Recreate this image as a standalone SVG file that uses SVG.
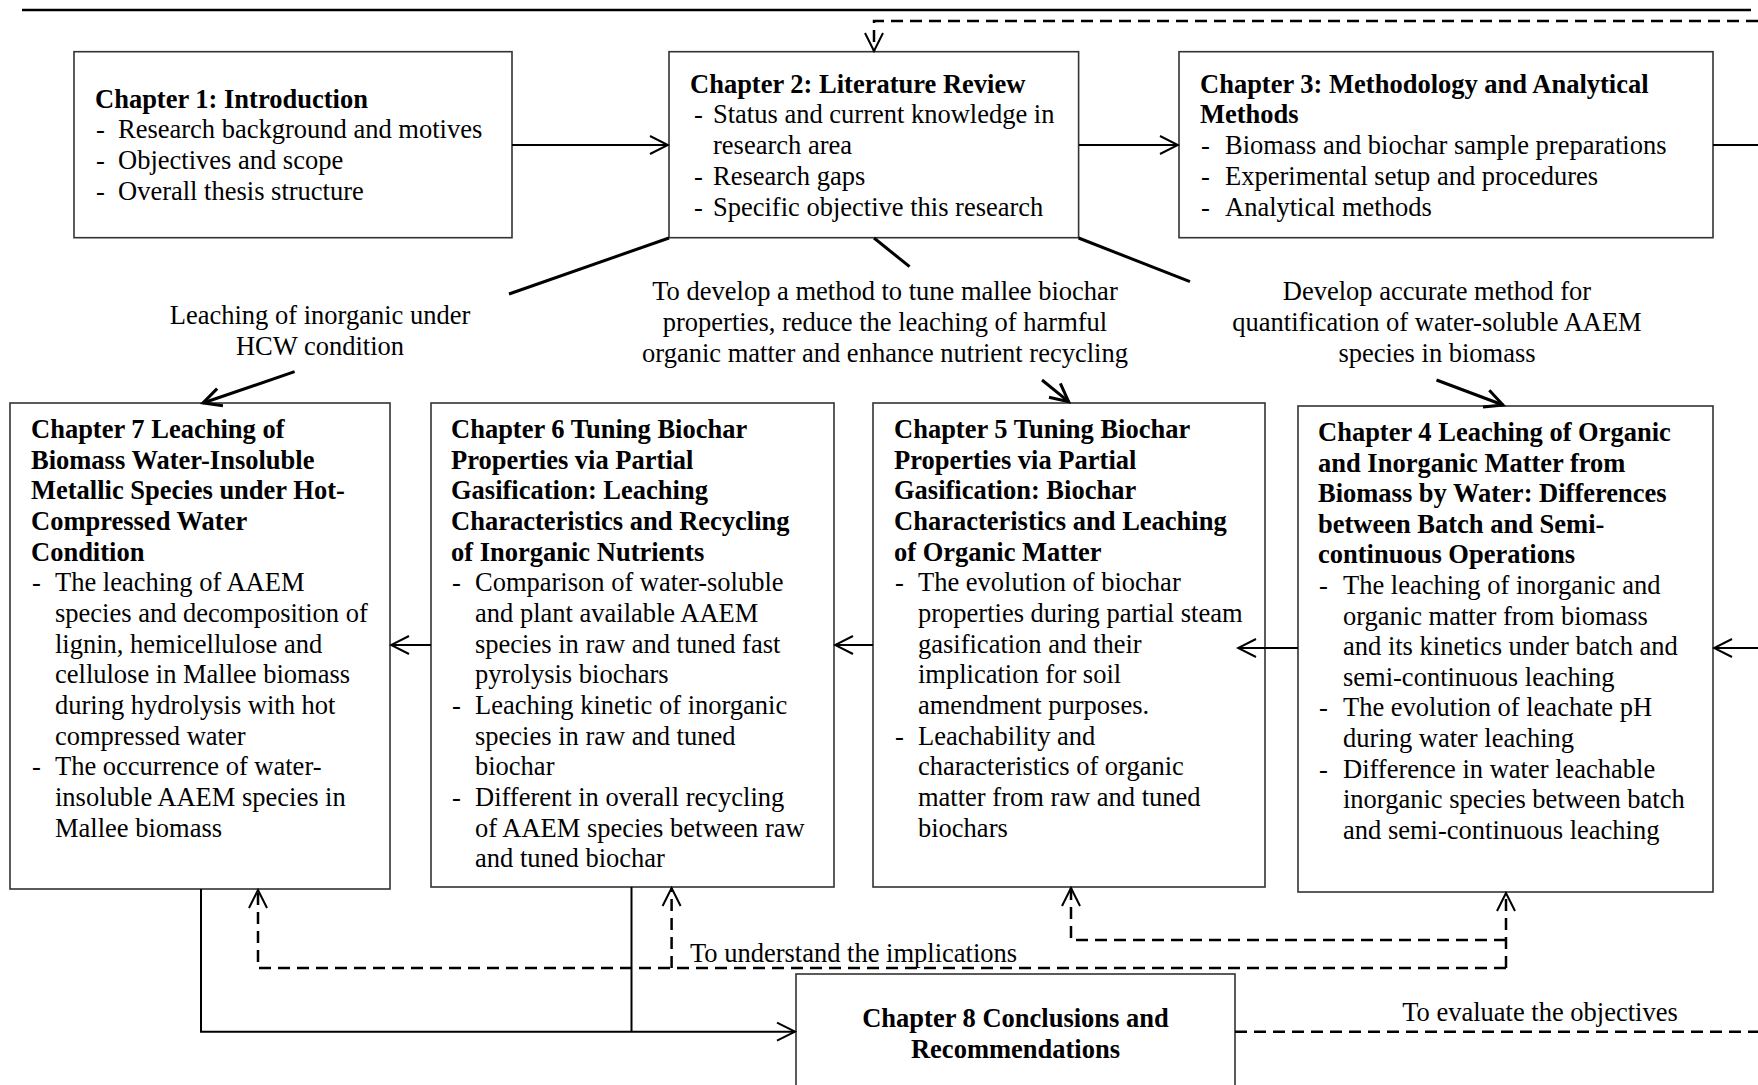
<svg xmlns="http://www.w3.org/2000/svg" width="1758" height="1085" viewBox="0 0 1758 1085">
<style>
text{font-family:"Liberation Serif","Times New Roman",serif;font-size:26.5px;fill:#000}
.t{font-weight:bold}
.box{fill:#fff;stroke:#333;stroke-width:1.6}
.c{fill:none;stroke:#000;stroke-width:2}
.k{fill:none;stroke:#000;stroke-width:3}
.d{fill:none;stroke:#000;stroke-width:2.5;stroke-dasharray:12 7}
.m{text-anchor:middle}
</style>
<defs>
<marker id="a" markerUnits="userSpaceOnUse" markerWidth="22" markerHeight="22" viewBox="0 0 22 22" refX="20" refY="11" orient="auto">
<path d="M2,2 L20,11 L2,20" fill="none" stroke="#000" stroke-width="2"/>
</marker>
<marker id="ak" markerUnits="userSpaceOnUse" markerWidth="24" markerHeight="24" viewBox="0 0 24 24" refX="21" refY="12" orient="auto">
<path d="M3,3 L21,12 L3,21" fill="none" stroke="#000" stroke-width="3"/>
</marker>
</defs>

<g id="ch1">
<rect class="box" x="74" y="51.7" width="438" height="186"/>
<text class="t" x="95" y="107.5">Chapter 1: Introduction</text>
<text x="96" y="138.3">-</text><text x="118" y="138.3">Research background and motives</text>
<text x="96" y="169.1">-</text><text x="118" y="169.1">Objectives and scope</text>
<text x="96" y="199.9">-</text><text x="118" y="199.9">Overall thesis structure</text>
</g>

<g id="ch2">
<rect class="box" x="669" y="51.7" width="409.6" height="186"/>
<text class="t" x="690" y="92.5">Chapter 2: Literature Review</text>
<text x="694" y="123.3">-</text><text x="713" y="123.3">Status and current knowledge in</text>
<text x="713" y="154.1">research area</text>
<text x="694" y="184.9">-</text><text x="713" y="184.9">Research gaps</text>
<text x="694" y="215.7">-</text><text x="713" y="215.7">Specific objective this research</text>
</g>

<g id="ch3">
<rect class="box" x="1179" y="51.7" width="534" height="186"/>
<text class="t" x="1200" y="92.5">Chapter 3: Methodology and Analytical</text>
<text class="t" x="1200" y="123.3">Methods</text>
<text x="1201" y="154.1">-</text><text x="1225" y="154.1">Biomass and biochar sample preparations</text>
<text x="1201" y="184.9">-</text><text x="1225" y="184.9">Experimental setup and procedures</text>
<text x="1201" y="215.7">-</text><text x="1225" y="215.7">Analytical methods</text>
</g>

<g id="ch7">
<rect class="box" x="10" y="403" width="380" height="486"/>
<text class="t" x="31" y="438">Chapter 7 Leaching of</text>
<text class="t" x="31" y="468.7">Biomass Water-Insoluble</text>
<text class="t" x="31" y="499.3">Metallic Species under Hot-</text>
<text class="t" x="31" y="530">Compressed Water</text>
<text class="t" x="31" y="560.6">Condition</text>
<text x="32" y="591.3">-</text><text x="55" y="591.3">The leaching of AAEM</text>
<text x="55" y="621.9">species and decomposition of</text>
<text x="55" y="652.6">lignin, hemicellulose and</text>
<text x="55" y="683.2">cellulose in Mallee biomass</text>
<text x="55" y="713.9">during hydrolysis with hot</text>
<text x="55" y="744.5">compressed water</text>
<text x="32" y="775.2">-</text><text x="55" y="775.2">The occurrence of water-</text>
<text x="55" y="805.8">insoluble AAEM species in</text>
<text x="55" y="836.5">Mallee biomass</text>
</g>

<g id="ch6">
<rect class="box" x="431" y="403" width="403" height="484"/>
<text class="t" x="451" y="438">Chapter 6 Tuning Biochar</text>
<text class="t" x="451" y="468.7">Properties via Partial</text>
<text class="t" x="451" y="499.3">Gasification: Leaching</text>
<text class="t" x="451" y="530">Characteristics and Recycling</text>
<text class="t" x="451" y="560.6">of Inorganic Nutrients</text>
<text x="452" y="591.3">-</text><text x="475" y="591.3">Comparison of water-soluble</text>
<text x="475" y="621.9">and plant available AAEM</text>
<text x="475" y="652.6">species in raw and tuned fast</text>
<text x="475" y="683.2">pyrolysis biochars</text>
<text x="452" y="713.9">-</text><text x="475" y="713.9">Leaching kinetic of inorganic</text>
<text x="475" y="744.5">species in raw and tuned</text>
<text x="475" y="775.2">biochar</text>
<text x="452" y="805.8">-</text><text x="475" y="805.8">Different in overall recycling</text>
<text x="475" y="836.5">of AAEM species between raw</text>
<text x="475" y="867.1">and tuned biochar</text>
</g>

<g id="ch5">
<rect class="box" x="873" y="403" width="392" height="484"/>
<text class="t" x="894" y="438">Chapter 5 Tuning Biochar</text>
<text class="t" x="894" y="468.7">Properties via Partial</text>
<text class="t" x="894" y="499.3">Gasification: Biochar</text>
<text class="t" x="894" y="530">Characteristics and Leaching</text>
<text class="t" x="894" y="560.6">of Organic Matter</text>
<text x="895" y="591.3">-</text><text x="918" y="591.3">The evolution of biochar</text>
<text x="918" y="621.9">properties during partial steam</text>
<text x="918" y="652.6">gasification and their</text>
<text x="918" y="683.2">implication for soil</text>
<text x="918" y="713.9">amendment purposes.</text>
<text x="895" y="744.5">-</text><text x="918" y="744.5">Leachability and</text>
<text x="918" y="775.2">characteristics of organic</text>
<text x="918" y="805.8">matter from raw and tuned</text>
<text x="918" y="836.5">biochars</text>
</g>

<g id="ch4">
<rect class="box" x="1298" y="406" width="415" height="486"/>
<text class="t" x="1318" y="441">Chapter 4 Leaching of Organic</text>
<text class="t" x="1318" y="471.6">and Inorganic Matter from</text>
<text class="t" x="1318" y="502.2">Biomass by Water: Differences</text>
<text class="t" x="1318" y="532.8">between Batch and Semi-</text>
<text class="t" x="1318" y="563.4">continuous Operations</text>
<text x="1319" y="594">-</text><text x="1343" y="594">The leaching of inorganic and</text>
<text x="1343" y="624.6">organic matter from biomass</text>
<text x="1343" y="655.2">and its kinetics under batch and</text>
<text x="1343" y="685.8">semi-continuous leaching</text>
<text x="1319" y="716.4">-</text><text x="1343" y="716.4">The evolution of leachate pH</text>
<text x="1343" y="747">during water leaching</text>
<text x="1319" y="777.6">-</text><text x="1343" y="777.6">Difference in water leachable</text>
<text x="1343" y="808.2">inorganic species between batch</text>
<text x="1343" y="838.8">and semi-continuous leaching</text>
</g>

<g id="ch8">
<rect class="box" x="796" y="974" width="439" height="140"/>
<text class="t m" x="1015.5" y="1027">Chapter 8 Conclusions and</text>
<text class="t m" x="1015.5" y="1058">Recommendations</text>
</g>

<g id="connectors">
<line x1="22" y1="10" x2="1751" y2="10" stroke="#000" stroke-width="2.5"/>
<path class="d" d="M1758,21 H874 V51" marker-end="url(#a)"/>
<path class="c" d="M512,145 H668" marker-end="url(#a)"/>
<path class="c" d="M1079,145 H1178" marker-end="url(#a)"/>
<path class="c" d="M1713,145 H1758"/>
<path class="c" d="M1758,648 H1714" marker-end="url(#a)"/>
<path class="c" d="M1298,648 H1238" marker-end="url(#a)"/>
<path class="c" d="M873,645 H835" marker-end="url(#a)"/>
<path class="c" d="M431,645 H391" marker-end="url(#a)"/>
<path class="k" d="M669,238 L509,294"/>
<path class="k" d="M294.6,371.7 L203,403" marker-end="url(#ak)"/>
<path class="k" d="M874,238 L909.6,266.7"/>
<path class="k" d="M1042,380 L1068.6,401.7" marker-end="url(#ak)"/>
<path class="k" d="M1078.6,238 L1190,281.7"/>
<path class="k" d="M1436.5,380 L1503,405" marker-end="url(#ak)"/>
<path class="c" d="M201,889 V1031.7 H795" marker-end="url(#a)"/>
<path class="c" d="M631.5,887 V1031.7"/>
<path class="d" d="M1506,968 H258 V890" marker-end="url(#a)"/>
<path class="d" d="M671.6,968 V888" marker-end="url(#a)"/>
<path class="d" d="M1506,968 V893" marker-end="url(#a)"/>
<path class="d" d="M1506,940 H1071 V888" marker-end="url(#a)"/>
<path class="d" d="M1235,1031.7 H1758"/>
<text class="m" x="320" y="324">Leaching of inorganic under</text>
<text class="m" x="320" y="355">HCW condition</text>
<text class="m" x="885" y="300">To develop a method to tune mallee biochar</text>
<text class="m" x="885" y="331">properties, reduce the leaching of harmful</text>
<text class="m" x="885" y="362">organic matter and enhance nutrient recycling</text>
<text class="m" x="1437" y="300">Develop accurate method for</text>
<text class="m" x="1437" y="331">quantification of water-soluble AAEM</text>
<text class="m" x="1437" y="362">species in biomass</text>
<text x="690" y="962">To understand the implications</text>
<text class="m" x="1540" y="1021">To evaluate the objectives</text>
</g>
</svg>
